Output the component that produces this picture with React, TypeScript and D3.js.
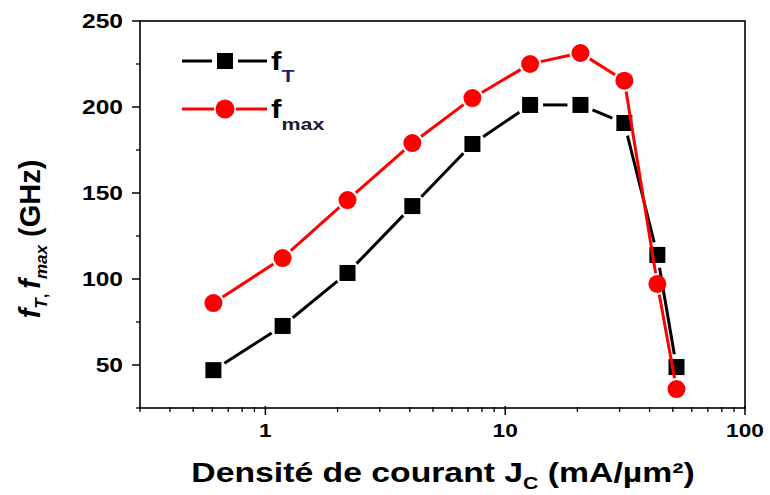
import React from "react";
import * as d3 from "d3";

const jc = [0.607, 1.18, 2.2, 4.1, 7.3, 12.7, 20.6, 31.4, 43.1, 51.8];
const fT = [47, 72.7, 103.5, 142.4, 178.5, 201.2, 201.2, 190.7, 114, 48.8];
const fMax = [86, 112.2, 145.9, 179, 205.2, 225, 231.4, 215.3, 97.1, 36];
const yTicks = [50, 100, 150, 200, 250];
const yMinor = [25, 75, 125, 175, 225];
const xTicks = [1, 10, 100];

const W = 770, H = 495;
const left = 140, right = 745, top = 21, bottom = 408;
const SX = 1.26;

function gappedSegments(pts: [number, number][], gap: number) {
  const segs: [number, number, number, number][] = [];
  for (let i = 0; i < pts.length - 1; i++) {
    const [x1, y1] = pts[i];
    const [x2, y2] = pts[i + 1];
    const dx = x2 - x1, dy = y2 - y1;
    const len = Math.hypot(dx, dy);
    if (len <= 2 * gap) continue;
    const ux = dx / len, uy = dy / len;
    segs.push([x1 + ux * gap, y1 + uy * gap, x2 - ux * gap, y2 - uy * gap]);
  }
  return segs;
}

export default function App() {
  const x = d3.scaleLog().domain([0.3, 100]).range([left, right]);
  const y = d3.scaleLinear().domain([25, 250]).range([bottom, top]);
  const minorX: number[] = [];
  [0.1, 1, 10].forEach((dec) => {
    for (let k = 2; k <= 9; k++) {
      const v = dec * k;
      if (v >= 0.3 - 1e-9 && v <= 100) minorX.push(v);
    }
  });
  const font = "'Liberation Sans', Arial, sans-serif";
  const sq = 16, r = 9;
  const ptsT = jc.map((d, i) => [x(d), y(fT[i])] as [number, number]);
  const ptsM = jc.map((d, i) => [x(d), y(fMax[i])] as [number, number]);
  const segT = gappedSegments(ptsT, 13);
  const segM = gappedSegments(ptsM, 11);
  return (
    <svg width={W} height={H} style={{ position: "absolute", left: 0, top: 0, background: "#fff" }} fontFamily={font}>
      <rect x={0} y={0} width={W} height={H} fill="#fff" />
      {/* frame */}
      <rect x={left} y={top} width={right - left} height={bottom - top} fill="none" stroke="#000" strokeWidth={1.6} />
      {/* y ticks */}
      {yTicks.map((t) => (
        <g key={"y" + t}>
          <line x1={left - 8} x2={left} y1={y(t)} y2={y(t)} stroke="#000" strokeWidth={1.5} />
          <text transform={`translate(${left - 17},${y(t)}) scale(${SX},1)`} dy="0.36em" textAnchor="end" fontSize={19.5} fontWeight="bold">{t}</text>
        </g>
      ))}
      {yMinor.map((t) => (
        <line key={"ym" + t} x1={left - 4} x2={left} y1={y(t)} y2={y(t)} stroke="#000" strokeWidth={1.3} />
      ))}
      {/* x ticks */}
      {xTicks.map((t) => (
        <g key={"x" + t}>
          <line x1={x(t)} x2={x(t)} y1={bottom - 2} y2={bottom + 7} stroke="#000" strokeWidth={1.5} />
          <text transform={`translate(${x(t)},${bottom + 29}) scale(${SX},1)`} textAnchor="middle" fontSize={18} fontWeight="bold">{t}</text>
        </g>
      ))}
      {minorX.map((t) => (
        <line key={"xm" + t} x1={x(t)} x2={x(t)} y1={bottom - 1} y2={bottom + 4} stroke="#000" strokeWidth={1.3} />
      ))}
      {/* series fT */}
      {segT.map((s, i) => (
        <line key={"lt" + i} x1={s[0]} y1={s[1]} x2={s[2]} y2={s[3]} stroke="#000" strokeWidth={3} />
      ))}
      {ptsT.map((p, i) => (
        <rect key={"s" + i} x={p[0] - sq / 2} y={p[1] - sq / 2} width={sq} height={sq} fill="#000" />
      ))}
      {/* series fmax */}
      {segM.map((s, i) => (
        <line key={"lm" + i} x1={s[0]} y1={s[1]} x2={s[2]} y2={s[3]} stroke="#ff0000" strokeWidth={3} />
      ))}
      {ptsM.map((p, i) => (
        <circle key={"c" + i} cx={p[0]} cy={p[1]} r={r} fill="#ff0000" />
      ))}
      {/* legend */}
      <line x1={182} x2={212} y1={61} y2={61} stroke="#000" strokeWidth={3} />
      <line x1={238} x2={267} y1={61} y2={61} stroke="#000" strokeWidth={3} />
      <rect x={225 - sq / 2} y={61 - sq / 2} width={sq} height={sq} fill="#000" />
      <text transform={`translate(271,70) scale(${SX},1)`} fontSize={25} fontWeight="bold">
        f<tspan fontSize={17} dy={12} fill="#1c2270">T</tspan>
      </text>
      <line x1={182} x2={214} y1={109} y2={109} stroke="#ff0000" strokeWidth={3} />
      <line x1={236} x2={267} y1={109} y2={109} stroke="#ff0000" strokeWidth={3} />
      <circle cx={225} cy={109} r={9.5} fill="#ff0000" />
      <text transform={`translate(271,118) scale(${SX},1)`} fontSize={25} fontWeight="bold">
        f<tspan fontSize={17} dy={12} fill="#1a1a30">max</tspan>
      </text>
      {/* y label */}
      <text transform="translate(40,239) rotate(-90)" textAnchor="middle" fontSize={29} fontWeight="bold">
        <tspan fontStyle="italic">f</tspan>
        <tspan fontStyle="italic" fontSize={17} dy={7}>T</tspan>
        <tspan fontSize={17}>, </tspan>
        <tspan fontStyle="italic" dy={-7}>f</tspan>
        <tspan fontStyle="italic" fontSize={17} dy={7}>max</tspan>
        <tspan dy={-7}> (GHz)</tspan>
      </text>
      {/* x label */}
      <text transform={`translate(443,482) scale(1.25,1)`} textAnchor="middle" fontSize={27} fontWeight="bold">
        Densité de courant J<tspan fontSize={17} dy={7}>C</tspan>
        <tspan dy={-7}> (mA/µm²)</tspan>
      </text>
    </svg>
  );
}
